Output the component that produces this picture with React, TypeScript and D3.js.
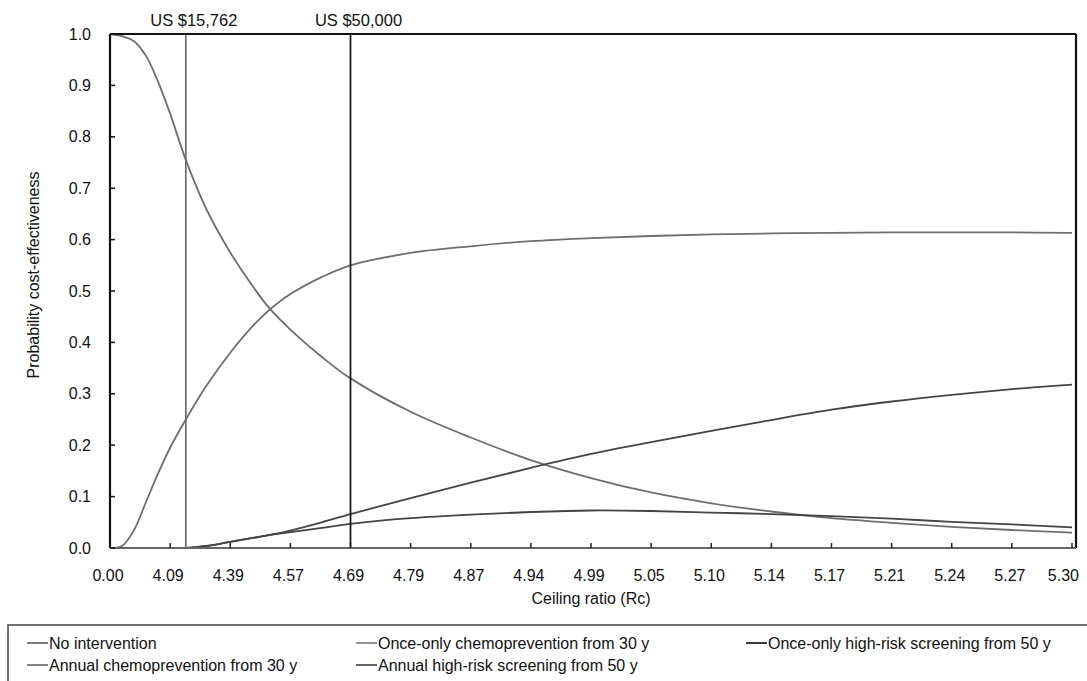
import React from "react";
import * as d3 from "d3";

// Ceiling ratio in US$ thousands (x grid shared by all series)
const rcK = [0, 2.5, 5, 7.5, 10, 12.5, 15.762, 20, 25, 30, 33, 37.5, 44, 50, 62.5, 75, 87.5, 100, 112.5, 125, 137.5, 150, 162.5, 175, 187.5, 200];

const noIntervention = [1.0, 0.996, 0.986, 0.957, 0.907, 0.845, 0.755, 0.66, 0.575, 0.505, 0.468, 0.425, 0.372, 0.33, 0.265, 0.215, 0.171, 0.136, 0.108, 0.087, 0.071, 0.058, 0.049, 0.041, 0.035, 0.03];
const onceChemo = [0, 0.004, 0.035, 0.09, 0.145, 0.195, 0.25, 0.315, 0.38, 0.435, 0.462, 0.494, 0.527, 0.55, 0.574, 0.587, 0.597, 0.603, 0.607, 0.61, 0.612, 0.613, 0.614, 0.614, 0.614, 0.613];
const annualScreen = [0, 0, 0, 0, 0, 0, 0, 0.004, 0.012, 0.02, 0.025, 0.034, 0.05, 0.066, 0.097, 0.127, 0.156, 0.183, 0.206, 0.228, 0.249, 0.269, 0.285, 0.298, 0.309, 0.318];
const onceScreen = [0, 0, 0, 0, 0, 0, 0, 0.004, 0.012, 0.02, 0.025, 0.031, 0.039, 0.047, 0.058, 0.065, 0.07, 0.073, 0.072, 0.069, 0.066, 0.062, 0.057, 0.051, 0.046, 0.04];
const annualChemo = rcK.map(() => 0);

const xTickLabels = ["0.00", "4.09", "4.39", "4.57", "4.69", "4.79", "4.87", "4.94", "4.99", "5.05", "5.10", "5.14", "5.17", "5.21", "5.24", "5.27", "5.30"];
const yTicks = [0, 0.1, 0.2, 0.3, 0.4, 0.5, 0.6, 0.7, 0.8, 0.9, 1.0];
const refLines = [
  { rc: 15.762, label: "US $15,762", color: "#6b6b6b" },
  { rc: 50, label: "US $50,000", color: "#111" },
];

const series = [
  { name: "No intervention", values: noIntervention, color: "#6e6e6e", legendColor: "#6e6e6e" },
  { name: "Once-only chemoprevention from 30 y", values: onceChemo, color: "#6e6e6e", legendColor: "#8a8a8a" },
  { name: "Once-only high-risk screening from 50 y", values: onceScreen, color: "#444", legendColor: "#222" },
  { name: "Annual chemoprevention from 30 y", values: annualChemo, color: "#777", legendColor: "#777" },
  { name: "Annual high-risk screening from 50 y", values: annualScreen, color: "#444", legendColor: "#555" },
];

const W = 1087;
const H = 681;
const left = 110;
const right = 1072;
const top = 34;
const bottom = 548;
const FONT = "'Liberation Sans', Arial, Helvetica, sans-serif";

export default function App() {
  const x = d3.scaleLinear().domain([0, 200]).range([left, right]);
  const y = d3.scaleLinear().domain([0, 1]).range([bottom, top]);
  const line = d3
    .line<number>()
    .x((_, i) => x(rcK[i]))
    .y((d) => y(d))
    .curve(d3.curveCatmullRom.alpha(0.5));
  const xTicks = xTickLabels.map((lab, i) => ({ lab, v: i * 12.5 }));

  const legendCols = [27, 356, 746];
  const legendRows = [643, 665];

  return (
    <div style={{ position: "absolute", left: 0, top: 0 }}>
      <svg width={W} height={H} style={{ display: "block", background: "#fff" }} fontFamily={FONT}>
        {/* curves */}
        {series.map((s) => (
          <path key={s.name} d={line(s.values) || ""} fill="none" stroke={s.color} strokeWidth={1.8} />
        ))}
        {/* reference lines */}
        {refLines.map((r) => (
          <g key={r.label}>
            <line x1={x(r.rc)} x2={x(r.rc)} y1={top} y2={bottom} stroke={r.color} strokeWidth={1.7} />
            <text x={x(r.rc) + 8} y={26} textAnchor="middle" fontSize={16.5} fill="#111">
              {r.label}
            </text>
          </g>
        ))}
        {/* frame */}
        <line x1={left} x2={right + 4} y1={top} y2={top} stroke="#111" strokeWidth={2.2} />
        <line x1={right + 4} x2={right + 4} y1={top} y2={bottom} stroke="#111" strokeWidth={2.2} />
        <line x1={left} x2={left} y1={top} y2={bottom} stroke="#111" strokeWidth={2.2} />
        <line x1={left} x2={right + 4} y1={bottom} y2={bottom} stroke="#666" strokeWidth={2.2} />
        {/* y ticks */}
        {yTicks.map((t) => (
          <g key={t}>
            <line x1={left} x2={left + 5} y1={y(t)} y2={y(t)} stroke="#111" strokeWidth={1.5} />
            <text x={91} y={y(t)} dy="0.35em" textAnchor="end" fontSize={16} fill="#111">
              {t.toFixed(1)}
            </text>
          </g>
        ))}
        {/* x ticks */}
        {xTicks.map((t, i) => {
          const last = i === xTicks.length - 1;
          return (
            <g key={t.lab}>
              <line x1={x(t.v)} x2={x(t.v)} y1={bottom} y2={bottom - 5} stroke="#222" strokeWidth={1.5} />
              <text
                x={last ? x(t.v) + 7 : x(t.v) - 2}
                y={581}
                textAnchor={last ? "end" : "middle"}
                fontSize={16}
                fill="#111"
              >
                {t.lab}
              </text>
            </g>
          );
        })}
        <text x={(left + right) / 2} y={604} textAnchor="middle" fontSize={16} fill="#111">
          Ceiling ratio (Rc)
        </text>
        <text transform="translate(33, 275) rotate(-90)" textAnchor="middle" dy="0.35em" fontSize={16} fill="#111">
          Probability cost-effectiveness
        </text>
        {/* legend */}
        <rect x={8} y={625} width={1100} height={80} fill="none" stroke="#444" strokeWidth={1.5} />
        {series.map((s, i) => {
          const cx = legendCols[i % 3];
          const cy = legendRows[Math.floor(i / 3)];
          return (
            <g key={s.name}>
              <line x1={cx} x2={cx + 21} y1={cy} y2={cy} stroke={s.legendColor} strokeWidth={1.8} />
              <text x={cx + 22} y={cy} dy="0.35em" fontSize={16} fill="#111">
                {s.name}
              </text>
            </g>
          );
        })}
      </svg>
    </div>
  );
}
